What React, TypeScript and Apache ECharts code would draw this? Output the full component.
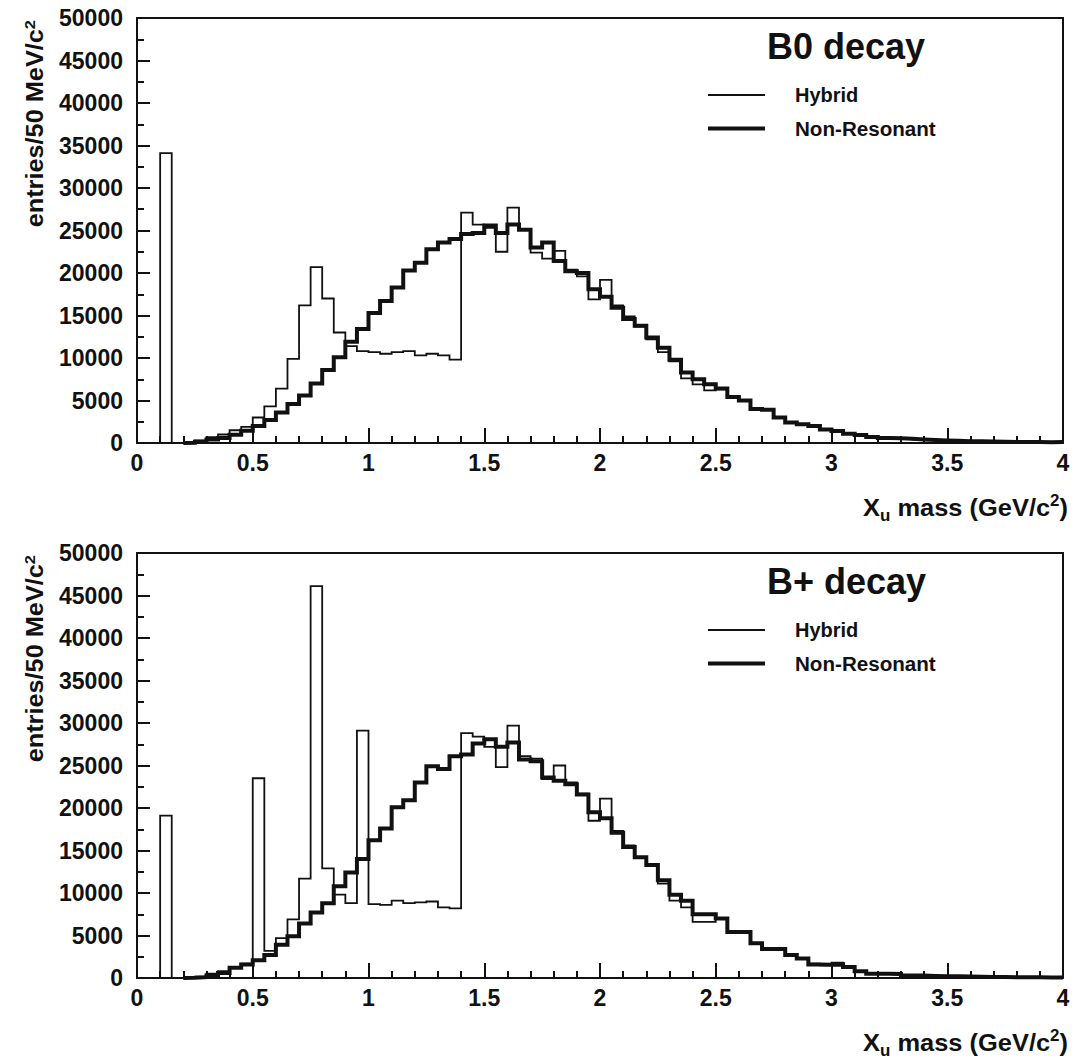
import React, { useEffect, useRef } from 'react';
import * as echarts from 'echarts';

// bin width in GeV/c^2 (50 MeV), 80 bins from 0 to 4
const BIN_WIDTH = 0.05;

// B0 decay panel
const b0Hybrid = [
  0, 0, 34100, 0, 50, 300, 700, 1000, 1500, 1900,
  3000, 4300, 6400, 9900, 16200, 20700, 17000, 13000, 11400, 10800,
  10700, 10500, 10700, 10800, 10300, 10500, 10300, 9800, 27100, 25700,
  25300, 22500, 27700, 25200, 22400, 21700, 22600, 20400, 19600, 16900,
  19200, 16200, 14900, 13700, 12200, 10700, 9600, 7600, 6900, 6200,
  6300, 5400, 5000, 4000, 3900, 3000, 2400, 2200, 2000, 1600,
  1400, 1060, 940, 670, 600, 550, 500, 400, 350, 300,
  250, 200, 180, 150, 120, 100, 100, 80, 60, 50,
];
const b0NonResonant = [
  0, 0, 0, 0, 30, 150, 400, 600, 980, 1450,
  2000, 2700, 3600, 4600, 5600, 7000, 8600, 10100, 11900, 13400,
  15300, 16700, 18300, 20300, 21200, 22800, 23600, 24000, 24600, 24700,
  25600, 24700, 25700, 25100, 23000, 23600, 21400, 20200, 20000, 18100,
  17200, 15900, 14600, 13800, 12400, 11200, 9800, 8300, 7500, 6900,
  6400, 5400, 5000, 4000, 3900, 3000, 2400, 2200, 2000, 1600,
  1400, 1100, 950, 700, 600, 550, 500, 420, 350, 300,
  260, 220, 200, 170, 150, 130, 120, 110, 100, 120,
];

// B+ decay panel
const bpHybrid = [
  0, 0, 19100, 0, 0, 150, 500, 800, 1300, 1700,
  23500, 3200, 4700, 6900, 11700, 46100, 12900, 9800, 8800, 29100,
  8700, 8600, 9100, 8800, 8900, 9000, 8300, 8200, 28800, 28400,
  27200, 24800, 29700, 26100, 25800, 23400, 25000, 23000, 21700, 18500,
  21100, 17300, 15600, 14200, 13200, 11100, 9100, 8300, 6600, 6600,
  7000, 5400, 5400, 4100, 3400, 3300, 2700, 2300, 1700, 1500,
  1800, 1250, 800, 550, 450, 400, 300, 280, 250, 220,
  200, 180, 150, 130, 120, 100, 90, 80, 70, 60,
];
const bpNonResonant = [
  0, 0, 0, 0, 30, 100, 300, 600, 1200, 1600,
  2100, 2700, 3900, 4900, 6400, 7700, 8800, 10800, 12400, 14000,
  16200, 17600, 20100, 20900, 23000, 24900, 24600, 26100, 26300, 27600,
  28100, 27200, 27700, 25700, 25500, 23600, 23200, 22800, 21600, 19500,
  18800, 17100, 15400, 14200, 13300, 11500, 9800, 9100, 7500, 7500,
  7000, 5400, 5400, 4100, 3400, 3400, 2700, 2300, 1600, 1550,
  1600, 1300, 780, 500, 500, 480, 300, 280, 250, 220,
  200, 180, 150, 130, 120, 100, 90, 80, 70, 60,
];

const panelTitles = ['B0 decay', 'B+ decay'];
const legendNames = ['Hybrid', 'Non-Resonant'];

const FONT = '"Liberation Sans", Arial, Helvetica, sans-serif';
const INK = '#111';

// histogram outline points (bin low edges + final upper edge), leading empty bins skipped
function toSteps(vals: number[]) {
  let first = 0;
  while (first < vals.length && vals[first] === 0) first++;
  const pts: number[][] = [];
  for (let i = first; i < vals.length; i++) pts.push([+(i * BIN_WIDTH).toFixed(2), vals[i]]);
  pts.push([+(vals.length * BIN_WIDTH).toFixed(2), vals[vals.length - 1]]);
  if (first > 0) pts.unshift([+(first * BIN_WIDTH).toFixed(2), 0]);
  return pts;
}

const GRID_LEFT = 137;
const GRID_W = 926;
const GRID_H = 425;
const GRID_TOPS = [18, 553];

function xAxis(gridIndex: number) {
  return {
    type: 'value',
    gridIndex,
    position: 'bottom',
    min: 0,
    max: 4,
    interval: 0.5,
    axisLine: { show: true, onZero: false, lineStyle: { color: INK, width: 2 } },
    axisTick: { show: true, inside: true, length: 15, lineStyle: { color: INK, width: 2 } },
    minorTick: { show: true, splitNumber: 5, length: 7, lineStyle: { color: INK, width: 2 } },
    splitLine: { show: false },
    minorSplitLine: { show: false },
    axisLabel: { color: INK, fontSize: 23, fontWeight: 'bold', fontFamily: FONT, margin: 8 },
  };
}

function yAxis(gridIndex: number) {
  return {
    type: 'value',
    gridIndex,
    position: 'left',
    min: 0,
    max: 50000,
    interval: 5000,
    axisLine: { show: true, onZero: false, lineStyle: { color: INK, width: 2 } },
    axisTick: { show: true, inside: true, length: 13, lineStyle: { color: INK, width: 2 } },
    minorTick: { show: true, splitNumber: 2, length: 7, lineStyle: { color: INK, width: 2 } },
    splitLine: { show: false },
    minorSplitLine: { show: false },
    axisLabel: {
      color: INK, fontSize: 23, fontWeight: 'bold', fontFamily: FONT, margin: 14,
      formatter: (v: number) => String(Math.round(v)),
    },
  };
}

// frame edges (top / right) with no ticks or labels
function frameX(gridIndex: number) {
  return {
    type: 'value', gridIndex, position: 'top', min: 0, max: 4,
    axisLine: { show: true, onZero: false, lineStyle: { color: INK, width: 2 } },
    axisTick: { show: false }, axisLabel: { show: false }, splitLine: { show: false },
  };
}
function frameY(gridIndex: number) {
  return {
    type: 'value', gridIndex, position: 'right', min: 0, max: 50000,
    axisLine: { show: true, onZero: false, lineStyle: { color: INK, width: 2 } },
    axisTick: { show: false }, axisLabel: { show: false }, splitLine: { show: false },
  };
}

function panelGraphics(p: number) {
  const dy = GRID_TOPS[p] - GRID_TOPS[0];
  return [
    {
      type: 'text',
      x: 767,
      y: 46.5 + dy,
      style: { text: panelTitles[p], fontSize: 36, fontWeight: 'bold', fontFamily: FONT, fill: INK, verticalAlign: 'middle', align: 'left' },
    },
    { type: 'line', shape: { x1: 708, y1: 95 + dy, x2: 765, y2: 95 + dy }, style: { stroke: INK, lineWidth: 1.8 } },
    {
      type: 'text', x: 795, y: 95 + dy,
      style: { text: legendNames[0], fontSize: 20, fontWeight: 'bold', fontFamily: FONT, fill: INK, verticalAlign: 'middle' },
    },
    { type: 'line', shape: { x1: 708, y1: 128.5 + dy, x2: 765, y2: 128.5 + dy }, style: { stroke: INK, lineWidth: 4 } },
    {
      type: 'text', x: 795, y: 129 + dy,
      scaleX: 1.03,
      style: { text: legendNames[1], fontSize: 20, fontWeight: 'bold', fontFamily: FONT, fill: INK, verticalAlign: 'middle' },
    },
    {
      type: 'text',
      x: 35,
      y: 20 + dy,
      rotation: Math.PI / 2,
      scaleX: 1.1,
      style: {
        text: '{m|entries/50 MeV/c}{s|2}',
        align: 'right',
        verticalAlign: 'middle',
        fill: INK,
        rich: {
          m: { fontSize: 23, fontWeight: 'bold', fontFamily: FONT, lineHeight: 26, fill: INK },
          s: { fontSize: 15, fontWeight: 'bold', fontFamily: FONT, lineHeight: 15, verticalAlign: 'top', fill: INK },
        },
      },
    },
    {
      type: 'text',
      x: 1068,
      y: 507.5 + dy,
      scaleX: 1.06,
      style: {
        text: '{m|X}{b|u}{m| mass (GeV/c}{t|2}{m|)}',
        align: 'right',
        verticalAlign: 'middle',
        fill: INK,
        rich: {
          m: { fontSize: 24, fontWeight: 'bold', fontFamily: FONT, lineHeight: 31, fill: INK },
          b: { fontSize: 16, fontWeight: 'bold', fontFamily: FONT, lineHeight: 16, verticalAlign: 'bottom', fill: INK },
          t: { fontSize: 16, fontWeight: 'bold', fontFamily: FONT, lineHeight: 16, verticalAlign: 'top', fill: INK },
        },
      },
    },
  ];
}

function histSeries(name: string, vals: number[], idx: number, width: number) {
  return {
    type: 'line',
    name,
    xAxisIndex: idx,
    yAxisIndex: idx,
    data: toSteps(vals),
    step: 'end',
    showSymbol: false,
    symbol: 'none',
    lineStyle: { color: INK, width, cap: 'butt', join: 'miter' },
  };
}

export default function App() {
  const ref = useRef<HTMLDivElement>(null);
  useEffect(() => {
    if (!ref.current) return;
    const chart = echarts.init(ref.current, undefined, { renderer: 'svg' });
    chart.setOption({
      animation: false,
      grid: GRID_TOPS.map((top) => ({
        left: GRID_LEFT,
        top,
        width: GRID_W,
        height: GRID_H,
      })),
      xAxis: [xAxis(0), xAxis(1), frameX(0), frameX(1)],
      yAxis: [yAxis(0), yAxis(1), frameY(0), frameY(1)],
      series: [
        histSeries('Hybrid', b0Hybrid, 0, 1.8),
        histSeries('Non-Resonant', b0NonResonant, 0, 4),
        histSeries('Hybrid', bpHybrid, 1, 1.8),
        histSeries('Non-Resonant', bpNonResonant, 1, 4),
      ],
      graphic: [...panelGraphics(0), ...panelGraphics(1)],
    });
    return () => chart.dispose();
  }, []);
  return (
    <div
      ref={ref}
      style={{ position: 'fixed', left: 0, top: 0, width: 1076, height: 1063, background: '#fff' }}
    />
  );
}
